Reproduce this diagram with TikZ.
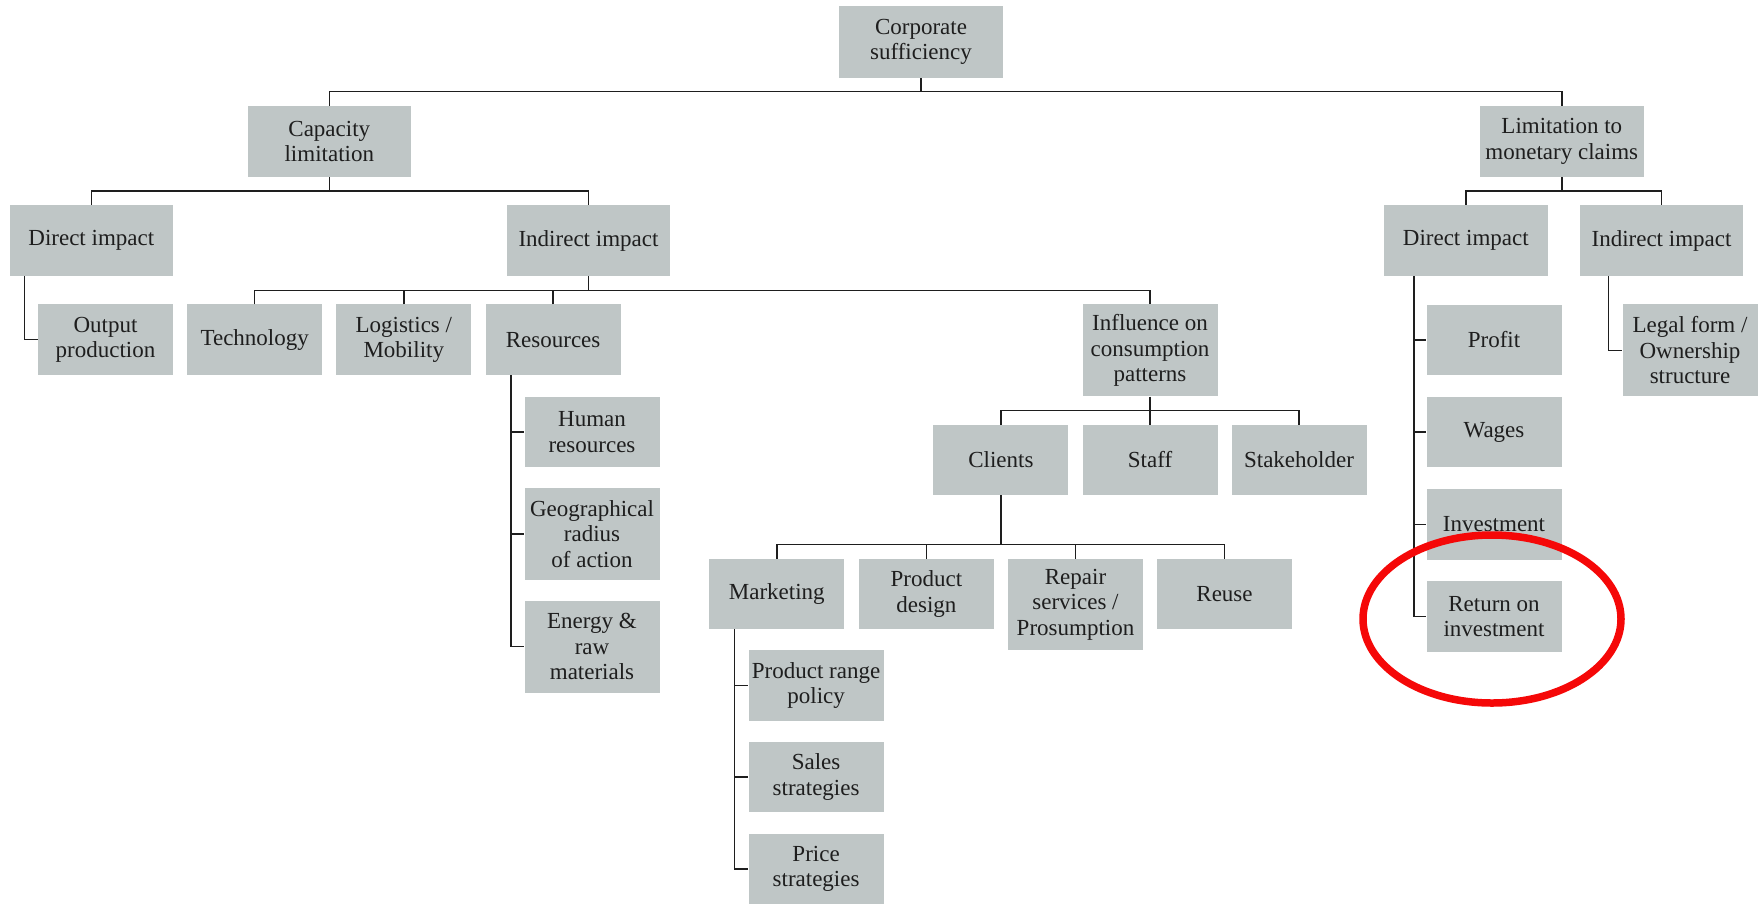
\documentclass[tikz,border=0pt]{standalone}
\usepackage{fontspec}
\setmainfont{Liberation Serif}
\definecolor{boxgrey}{RGB}{191,198,198}
\definecolor{inkdark}{RGB}{30,30,30}
\definecolor{markred}{RGB}{245,8,8}
\begin{document}
\begin{tikzpicture}[x=1pt,y=-1pt,
  box/.style={fill=boxgrey, text=inkdark, align=center, inner sep=0pt,
    font=\fontsize{23}{25.5}\selectfont},
  widebox/.style={box, minimum width=163.5pt, minimum height=71pt},
  narrowbox/.style={box, minimum width=135pt, minimum height=70.5pt},
  tallbox/.style={box, minimum width=135pt, minimum height=92pt},
  link/.style={draw=inkdark, line width=1.5pt},
  ring/.style={draw=markred, line width=7.5pt}]
\useasboundingbox (0,0) rectangle (1759,906);

% top level
\node[widebox, minimum height=72pt] (corp) at (921,42) {Corporate\\sufficiency};
\node[widebox] (cap) at (329.3,141.3) {Capacity\\limitation};
\node[widebox] (lim) at (1561.8,141.3) {Limitation to\\monetary claims};

% capacity limitation branch
\node[widebox] (dirL) at (91.3,240.5) {Direct impact};
\node[widebox] (indL) at (588.5,240.5) {Indirect impact};
\node[narrowbox] (out) at (105.5,339.7) {Output\\production};
\node[narrowbox] (tech) at (254.7,339.7) {Technology};
\node[narrowbox] (logi) at (403.8,339.7) {Logistics /\\Mobility};
\node[narrowbox] (res) at (553.1,339.7) {Resources};
\node[tallbox] (infl) at (1150,350.4) {Influence on\\consumption\\patterns};
\node[narrowbox] (human) at (592,432) {Human\\resources};
\node[tallbox] (geo) at (592,533.8) {Geographical\\radius\\of action};
\node[tallbox] (energy) at (592,646.7) {Energy \&\\raw\\materials};
\node[narrowbox] (clients) at (1000.9,460) {Clients};
\node[narrowbox] (staff) at (1150,460) {Staff};
\node[narrowbox] (stake) at (1299,460) {Stakeholder};
\node[narrowbox] (mkt) at (776.8,594) {Marketing};
\node[narrowbox] (pdes) at (926.4,594) {Product\\design};
\node[tallbox, minimum height=91.3pt] (repair) at (1075.5,604.7) {Repair\\services /\\Prosumption};
\node[narrowbox] (reuse) at (1224.5,594) {Reuse};
\node[narrowbox] (prp) at (816.1,685.5) {Product range\\policy};
\node[narrowbox] (sales) at (816.1,777.2) {Sales\\strategies};
\node[narrowbox] (price) at (816.1,868.9) {Price\\strategies};

% monetary claims branch
\node[widebox] (dirR) at (1465.8,240.5) {Direct impact};
\node[widebox] (indR) at (1661.5,240.5) {Indirect impact};
\node[narrowbox] (profit) at (1494,340) {Profit};
\node[narrowbox] (wages) at (1494,432.2) {Wages};
\node[narrowbox] (invest) at (1494,524.5) {Investment};
\node[narrowbox] (roi) at (1494,616.7) {Return on\\investment};
\node[tallbox] (legal) at (1690,350.4) {Legal form /\\Ownership\\structure};

% tree connectors: a stem from the parent to a bus spanning the outer
% children, and a short drop into every child in between
\foreach \p/\l/\r/\mids in {corp/cap/lim/{},
                            cap/dirL/indL/{},
                            indL/tech/infl/{logi,res},
                            infl/clients/stake/{staff},
                            clients/mkt/reuse/{pdes,repair},
                            lim/dirR/indR/{}} {
  \coordinate (bus) at ([yshift=14pt]\l.north);
  \draw[link] (\l.north) -- (bus) -| (\r.north);
  \draw[link] (\p.south) -- (\p.south |- bus);
  \foreach \m in \mids
    \draw[link] (\m.north) -- (\m.north |- bus);
}

% side connectors: a spine below the parent, a stub into each child
\foreach \p/\dx/\last/\mids in {dirL/15.2/out/{},
                                res/25.5/energy/{human,geo},
                                mkt/25.4/price/{prp,sales},
                                dirR/29.9/roi/{profit,wages,invest},
                                indR/29/legal/{}} {
  \coordinate (spine) at ([xshift=\dx pt]\p.south west);
  \draw[link] (spine) |- (\last.west);
  \foreach \m in \mids
    \draw[link] (spine |- \m.west) -- (\m.west);
}

% highlight ring
\draw[ring] ([xshift=-2pt,yshift=-2.3pt]roi.center) ellipse [x radius=129pt, y radius=84pt];
\end{tikzpicture}
\end{document}
